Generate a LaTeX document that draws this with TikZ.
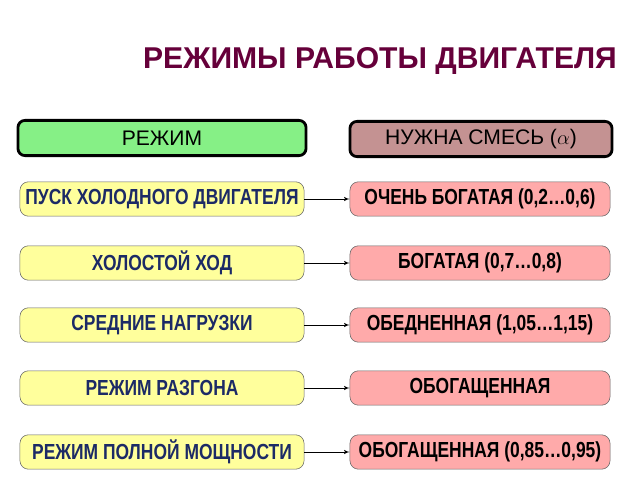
\documentclass[tikz,border=0pt]{standalone}
\usepackage{fontspec}
\setmainfont{Liberation Sans}
\newfontfamily\narrowfont[FakeStretch=0.8]{Liberation Sans}
\usepackage{xcolor}
\usepackage{tikz}
\usetikzlibrary{positioning,shapes,arrows}
\definecolor{titlered}{HTML}{66003A}
\definecolor{headgreen}{HTML}{86F086}
\definecolor{headrose}{HTML}{C49292}
\definecolor{modeyellow}{HTML}{FFFF9C}
\definecolor{mixpink}{HTML}{FFAAAA}
\definecolor{modeblue}{HTML}{1C2A66}
\tikzstyle{head} = [rectangle, rounded corners=5pt, draw=black, line width=2pt, minimum height=0.88cm, font=\fontsize{15}{17}\selectfont]
\tikzstyle{mode} = [rectangle, rounded corners=6pt, draw=gray!80!black, thin, fill=modeyellow, minimum width=7.1cm, minimum height=0.86cm, text=modeblue, font=\narrowfont\bfseries\fontsize{15.5}{17}\selectfont]
\tikzstyle{mix} = [rectangle, rounded corners=6pt, draw=gray!80!black, thin, fill=mixpink, minimum width=6.5cm, minimum height=0.86cm, font=\narrowfont\bfseries\fontsize{15.5}{17}\selectfont]
\tikzstyle{line} = [draw, -latex']

\begin{document}
\begin{tikzpicture}[x=0.025cm, y=-0.025cm]
        \useasboundingbox (0, 0) rectangle (640, 480);
        % Place nodes
        \node at (380, 61) [text=titlered, font=\bfseries\fontsize{21.4}{25}\selectfont] (title) {РЕЖИМЫ РАБОТЫ ДВИГАТЕЛЯ};
        \node at (162, 138) [head, fill=headgreen, minimum width=7.2cm] (hmode) {РЕЖИМ};
        \node at (481, 139) [head, fill=headrose, minimum width=6.55cm] (hmix) {НУЖНА СМЕСЬ ($\alpha$)};
        \node at (162, 199) [mode] (start) {ПУСК ХОЛОДНОГО ДВИГАТЕЛЯ};
        \node at (162, 263) [mode] (idle) {ХОЛОСТОЙ ХОД};
        \node at (162, 325) [mode] (medium) {СРЕДНИЕ НАГРУЗКИ};
        \node at (162, 388) [mode] (accel) {РЕЖИМ РАЗГОНА};
        \node at (162, 452) [mode] (full) {РЕЖИМ ПОЛНОЙ МОЩНОСТИ};
        \node at (480, 199) [mix] (mix1) {ОЧЕНЬ БОГАТАЯ (0,2\ldots0,6)};
        \node at (480, 263) [mix] (mix2) {БОГАТАЯ (0,7\ldots0,8)};
        \node at (480, 325) [mix] (mix3) {ОБЕДНЕННАЯ (1,05\ldots1,15)};
        \node at (480, 388) [mix] (mix4) {ОБОГАЩЕННАЯ};
        \node at (480, 452) [mix] (mix5) {ОБОГАЩЕННАЯ (0,85\ldots0,95)};

        % Draw edges
        \path [line] (start) -- (mix1);
        \path [line] (idle) -- (mix2);
        \path [line] (medium) -- (mix3);
        \path [line] (accel) -- (mix4);
        \path [line] (full) -- (mix5);
    \end{tikzpicture}
\end{document}
